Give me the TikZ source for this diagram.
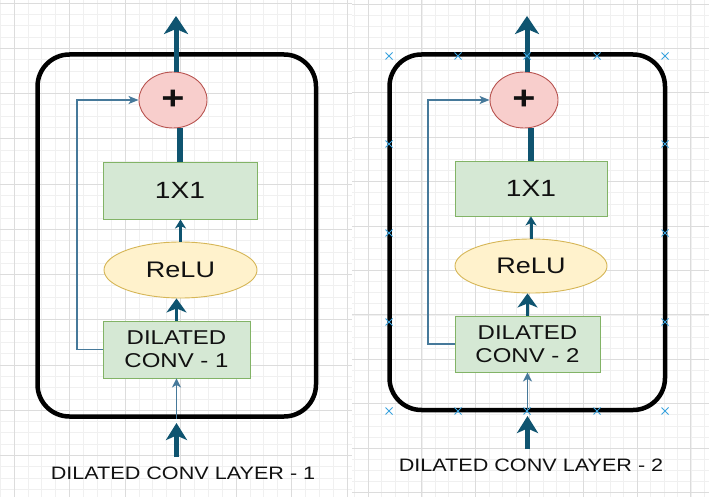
\documentclass[tikz,border=0pt]{standalone}
\usepackage{fontspec}
\setmainfont{Liberation Sans}[FakeStretch=1.2]
\usetikzlibrary{arrows.meta,shapes.geometric}
\definecolor{arrowc}{HTML}{0F5470}
\definecolor{skipc}{HTML}{46799A}
\definecolor{gridmin}{HTML}{F0F0F0}
\definecolor{gridmaj}{HTML}{DCDCDC}
\definecolor{txt}{HTML}{111111}
\definecolor{markc}{HTML}{3AA3DE}
\definecolor{boxfill}{HTML}{D5E8D4}
\definecolor{boxline}{HTML}{82B366}
\definecolor{plusfill}{HTML}{F8CECC}
\definecolor{plusline}{HTML}{B85450}
\definecolor{relufill}{HTML}{FFF2CC}
\definecolor{reluline}{HTML}{D6B656}
\tikzset{
  gridminor/.style={draw=gridmin,line width=0.6pt},
  gridmajor/.style={draw=gridmaj,line width=0.7pt},
  frame/.style={draw=black,line width=4.5pt,rounded corners=32pt,rectangle,inner sep=0pt},
  greenbox/.style={rectangle,draw=boxline,fill=boxfill,line width=0.9pt,inner sep=0pt,text=txt,align=center},
  plusnode/.style={ellipse,draw=plusline,fill=plusfill,line width=0.9pt,inner sep=0pt,minimum width=68pt,minimum height=56pt,text=txt,font=\fontsize{33}{33}\selectfont\bfseries},
  relunode/.style={ellipse,draw=reluline,fill=relufill,line width=0.9pt,inner sep=0pt,minimum width=153pt,minimum height=56pt,text=txt,font=\fontsize{22.5}{26}\selectfont},
  bigarrow/.style={draw=arrowc,line width=5pt,-{Stealth[length=18pt,width=24pt,inset=5pt]}},
  thickline/.style={draw=arrowc,line width=5.5pt},
  midarrow/.style={draw=arrowc,line width=3pt,-{Stealth[length=9pt,width=11pt,inset=2.5pt]}},
  dilarrow/.style={draw=arrowc,line width=3.5pt,-{Stealth[length=14pt,width=20pt,inset=4pt]}},
  inarrow/.style={draw=arrowc,line width=4.5pt,-{Stealth[length=17pt,width=21pt,inset=4.5pt]}},
  thinarrow/.style={draw=skipc,line width=1.6pt,-{Stealth[length=9pt,width=9pt,inset=2.5pt]}},
  skiparrow/.style={draw=skipc,line width=1.2pt,-{Stealth[length=10pt,width=8pt,inset=2.5pt]}},
  label/.style={text=txt,font=\fontsize{18}{20}\selectfont,inner sep=0pt},
  marker/.style={draw=markc,line width=1pt}
}
\begin{document}
\begin{tikzpicture}[x=1pt,y=-1pt]
\useasboundingbox (0,0) rectangle (709,497);
\fill[white] (0,0) rectangle (709,497);
% grid, left screenshot
\begin{scope}
\clip (0,0) rectangle (352,497);
\foreach \i in {0,...,26}{\pgfmathsetmacro\xx{0.125+\i*13.875}\draw[gridminor] (\xx,0) -- (\xx,497);}
\foreach \i in {0,...,44}{\pgfmathsetmacro\yy{3+\i*11.31}\draw[gridminor] (0,\yy) -- (352,\yy);}
\foreach \i in {0,...,6}{\pgfmathsetmacro\xx{14+\i*55.5}\draw[gridmajor] (\xx,0) -- (\xx,497);}
\foreach \i in {0,...,11}{\pgfmathsetmacro\yy{3+\i*45.25}\draw[gridmajor] (0,\yy) -- (352,\yy);}
\end{scope}
% grid, right screenshot
\begin{scope}
\clip (352,0) rectangle (709,497);
\foreach \i in {0,...,27}{\pgfmathsetmacro\xx{341.1+\i*13.45}\draw[gridminor] (\xx,0) -- (\xx,497);}
\foreach \i in {0,...,45}{\pgfmathsetmacro\yy{4+\i*11.1}\draw[gridminor] (352,\yy) -- (709,\yy);}
\foreach \i in {0,...,6}{\pgfmathsetmacro\xx{368+\i*53.8}\draw[gridmajor] (\xx,0) -- (\xx,497);}
\foreach \i in {0,...,11}{\pgfmathsetmacro\yy{4+\i*44.4}\draw[gridmajor] (352,\yy) -- (709,\yy);}
\end{scope}

% ---------- left panel ----------
\node[frame,minimum width=278.5pt,minimum height=362pt] (frame1) at (176.75,235.5) {};
\node[plusnode] (plus1) at (173,100) {+};
\node[greenbox,minimum width=154pt,minimum height=57pt,font=\fontsize{23.5}{27}\selectfont] (one1) at (180,190.5) {1X1};
\node[relunode] (relu1) at (180.5,270) {ReLU};
\node[greenbox,minimum width=147pt,minimum height=57pt,font=\fontsize{20}{23}\selectfont] (dil1) at (176.5,349.5) {DILATED\\CONV - 1};
\node[label] (lab1) at (183,473) {DILATED CONV LAYER - 1};
\coordinate (top1) at (176,16);
\coordinate (skip1) at (77,0);
\coordinate (ins1) at (176.5,457);
\coordinate (int1) at (176.5,423);
\draw[thickline] (one1.north) -- (plus1.south -| one1.north);
\draw[midarrow] (relu1.north) -- (relu1.north |- one1.south);
\draw[dilarrow] (dil1.north) -- (dil1.north |- relu1.south);
\draw[thinarrow] (frame1.south -| dil1.south) -- (dil1.south);
\draw[inarrow] (ins1) -- (int1);
\draw[skiparrow] (dil1.west) -- (dil1.west -| skip1) |- (plus1.west);
\draw[bigarrow] (plus1.north -| top1) -- (top1);

% ---------- right panel ----------
\node[frame,minimum width=275.5pt,minimum height=355.5pt] (frame2) at (527.25,232.25) {};
\node[plusnode] (plus2) at (524,100) {+};
\node[greenbox,minimum width=152pt,minimum height=55pt,font=\fontsize{23.5}{27}\selectfont] (one2) at (531,188.5) {1X1};
\node[relunode,minimum width=152pt,minimum height=54pt] (relu2) at (531,266) {ReLU};
\node[greenbox,minimum width=145pt,minimum height=56pt,font=\fontsize{20}{23}\selectfont] (dil2) at (527.5,344) {DILATED\\CONV - 2};
\node[label] (lab2) at (531,465) {DILATED CONV LAYER - 2};
\coordinate (top2) at (527,16);
\coordinate (skip2) at (428,0);
\coordinate (ins2) at (527.5,449);
\coordinate (int2) at (527.5,416);
\draw[thickline] (one2.north) -- (plus2.south -| one2.north);
\draw[midarrow] (relu2.north) -- (relu2.north |- one2.south);
\draw[dilarrow] (dil2.north) -- (dil2.north |- relu2.south);
\draw[thinarrow] (frame2.south -| dil2.south) -- (dil2.south);
\draw[inarrow] (ins2) -- (int2);
\draw[skiparrow] (dil2.west) -- (dil2.west -| skip2) |- (plus2.west);
\draw[bigarrow] (plus2.north -| top2) -- (top2);

% selection markers
\foreach \mx/\my in {389/56,458/56,527/56,597/56,665/56,389/411,458/411,527/411,597/411,665/411,389/144,389/233,389/322,665/144,665/233,665/322}{
  \draw[marker] (\mx-3.5,\my-3.5) -- (\mx+3.5,\my+3.5) (\mx-3.5,\my+3.5) -- (\mx+3.5,\my-3.5);
}
\end{tikzpicture}
\end{document}
